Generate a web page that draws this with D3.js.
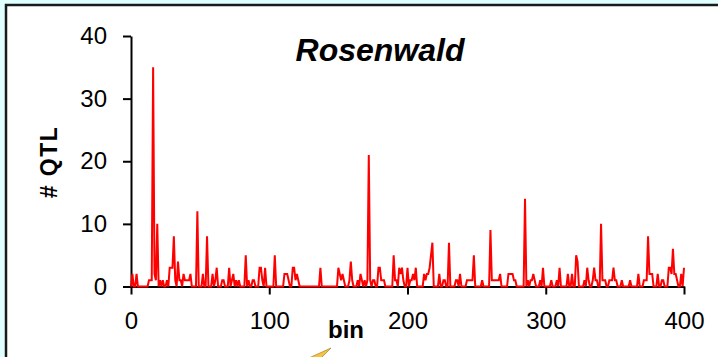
<!DOCTYPE html>
<html>
<head>
<meta charset="utf-8">
<script src="https://cdn.jsdelivr.net/npm/d3@7"></script>
<style>
  html, body { margin: 0; padding: 0; background: #e0ffff; }
  svg { display: block; }
</style>
</head>
<body>
<svg id="chart" width="718" height="357"></svg>
<script>
// ---- data ----
const title = "Rosenwald";
const xLabel = "bin";
const yLabel = "# QTL";
const xTicks = [0, 100, 200, 300, 400];
const yTicks = [0, 10, 20, 30, 40];
// # QTL per bin, bins 0..400 (rows of 20 bins)
const qtlCounts = [
  0,2,0,0,2,0,0,0,0,0,0,0,0,1,1,1,35,2,1,10,
  0,1,0,1,0,0,1,0,3,3,3,8,1,0,4,1,1,0,2,1,
  1,1,1,2,0,0,0,0,12,0,0,0,2,0,0,8,0,0,0,2,
  0,1,3,0,0,0,1,1,0,0,0,3,0,1,2,0,1,0,1,0,
  0,0,0,5,0,1,0,0,1,1,0,0,0,3,3,1,0,3,0,0,
  0,0,0,0,5,0,0,0,0,0,0,2,2,2,1,0,0,3,3,1,
  2,1,0,0,0,0,0,0,0,0,0,0,0,0,0,0,0,3,0,0,
  0,0,0,0,0,0,0,0,0,0,3,2,1,2,1,0,0,0,1,4,
  1,0,0,0,1,0,2,1,0,1,0,1,21,1,0,1,1,0,0,3,
  3,1,1,1,0,0,0,0,0,0,5,1,1,0,3,2,3,1,0,0,
  3,0,1,1,2,1,3,0,0,0,0,0,2,1,2,2,3,5,7,0,
  0,0,0,2,0,0,1,1,0,0,7,0,0,0,0,1,1,0,2,0,
  0,0,0,1,1,1,1,1,5,0,0,0,0,0,1,0,0,0,0,0,
  9,1,1,1,1,1,1,2,0,0,0,0,0,2,2,2,2,1,1,0,
  0,0,0,0,0,14,0,1,0,1,1,2,1,0,0,0,1,0,3,0,
  0,0,0,0,1,0,0,0,1,0,3,0,0,0,0,0,2,0,0,2,
  0,0,5,4,0,0,0,0,1,0,3,1,0,0,1,3,1,1,0,0,
  10,1,1,1,0,0,1,1,1,3,1,1,0,0,0,1,0,0,0,0,
  0,1,0,0,0,0,0,2,0,0,0,1,1,1,8,2,2,2,0,0,
  0,2,0,0,1,1,0,0,0,3,3,2,6,2,2,1,0,0,2,0,
  3
];

// ---- drawing ----
const svg = d3.select("#chart");
const font = "'Liberation Sans', Arial, sans-serif";

// panel box
svg.append("rect")
  .attr("x", 6).attr("y", 5)
  .attr("width", 740).attr("height", 380)
  .attr("fill", "#ffffff")
  .attr("stroke", "#1a1a1a")
  .attr("stroke-width", 2.5);

const x = d3.scaleLinear().domain([0, 400]).range([131, 684]);
const y = d3.scaleLinear().domain([0, 40]).range([286.5, 36]);

// y axis
const gy = svg.append("g")
  .attr("transform", `translate(${x(0)},0)`)
  .call(d3.axisLeft(y).tickValues(yTicks).tickSize(8).tickPadding(16).tickSizeOuter(0));
// x axis
const gx = svg.append("g")
  .attr("transform", `translate(0,${y(0)})`)
  .call(d3.axisBottom(x).tickValues(xTicks).tickSize(8).tickPadding(17.5).tickSizeOuter(0));

[gx, gy].forEach(g => {
  g.select(".domain").attr("stroke", "#000").attr("stroke-width", 2);
  g.selectAll(".tick line").attr("stroke", "#000").attr("stroke-width", 2);
  g.selectAll(".tick text")
    .attr("fill", "#000")
    .style("font-family", font)
    .style("font-size", "24px");
});

// data line
const line = d3.line()
  .x((d, i) => x(i))
  .y(d => y(d));
svg.append("path")
  .datum(qtlCounts)
  .attr("fill", "none")
  .attr("stroke", "#ff0000")
  .attr("stroke-width", 2)
  .attr("stroke-linejoin", "miter")
  .attr("d", line);

// title
svg.append("text")
  .attr("x", 380).attr("y", 61)
  .attr("text-anchor", "middle")
  .style("font-family", font)
  .style("font-size", "32px")
  .style("font-weight", "bold")
  .style("font-style", "italic")
  .text(title);

// y label
svg.append("text")
  .attr("transform", "translate(57,162) rotate(-90)")
  .attr("text-anchor", "middle")
  .style("font-family", font)
  .style("font-size", "23px")
  .style("font-weight", "bold")
  .style("letter-spacing", "1.5px")
  .text(yLabel);

// x label
svg.append("text")
  .attr("x", 346).attr("y", 338)
  .attr("text-anchor", "middle")
  .style("font-family", font)
  .style("font-size", "24px")
  .style("font-weight", "bold")
  .text(xLabel);

// partial callout arrow at bottom
svg.append("path")
  .attr("d", "M331,348 L309,358 L321,358 Z")
  .attr("fill", "#f6c444")
  .attr("stroke", "#b08a2a")
  .attr("stroke-width", 0.8);
</script>
</body>
</html>
